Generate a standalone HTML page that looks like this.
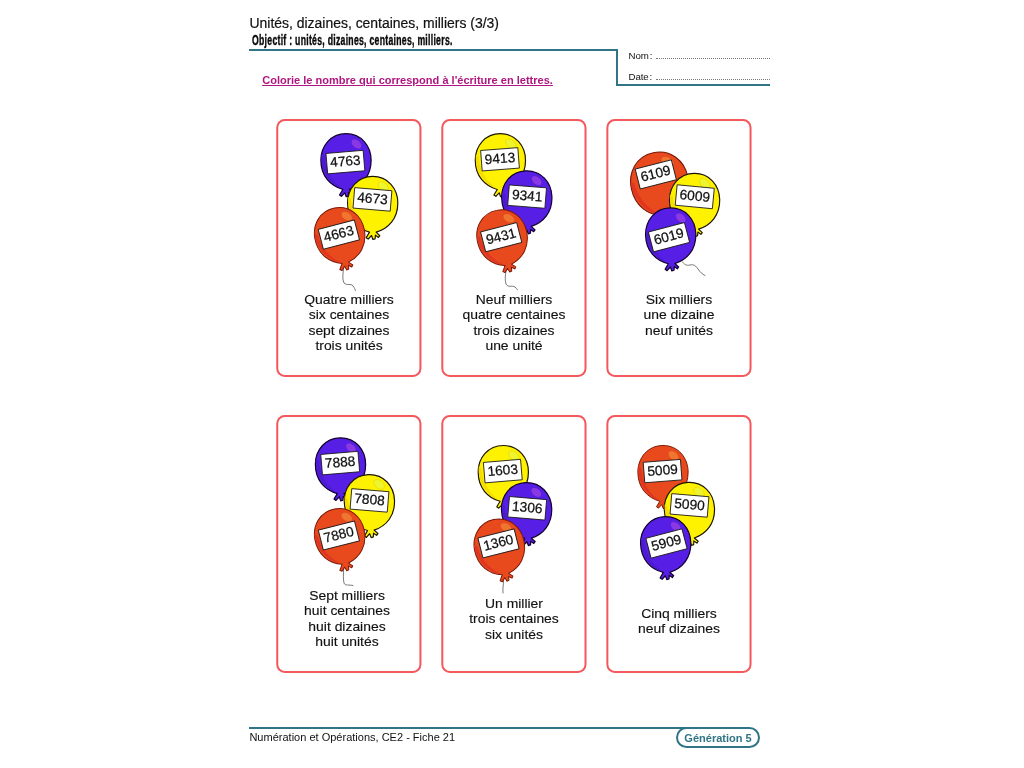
<!DOCTYPE html>
<html lang="fr"><head><meta charset="utf-8"><title>Unités, dizaines, centaines, milliers (3/3)</title>
<style>
html,body{margin:0;padding:0;background:#fff;}
body{width:1024px;height:768px;position:relative;overflow:hidden;font-family:"Liberation Sans",sans-serif;color:#1a1a1a;}
.abs{position:absolute;white-space:nowrap;}
#title{left:249.5px;top:14.9px;font-size:13.95px;line-height:16px;color:#111;-webkit-text-stroke:0.2px #111;}
#obj{left:252px;top:33.2px;font-size:13.8px;line-height:16px;font-weight:bold;color:#0a0a0a;transform-origin:0 0;transform:scaleX(0.628);letter-spacing:0.45px;-webkit-text-stroke:0.4px #0a0a0a;}
.ln{position:absolute;background:#2f7585;}
.nd{font-size:9.7px;line-height:11px;color:#111;word-spacing:-1.7px;letter-spacing:-0.08px;}
.dots{position:absolute;height:0;border-bottom:1px dotted #777;}
#instr{left:262.2px;top:73.8px;font-size:11.04px;line-height:13px;font-weight:bold;color:#b0167f;text-decoration:underline;text-decoration-thickness:0.85px;text-underline-offset:1.2px;}
.card{position:absolute;width:141px;height:254px;border:2px solid #f4585c;border-radius:8px;box-sizing:content-box;}
.ct{position:absolute;width:160px;text-align:center;font-size:13.45px;line-height:15.33px;color:#111;white-space:nowrap;-webkit-text-stroke:0.15px #111;transform:scaleX(1.034);transform-origin:50% 50%;}
svg{position:absolute;left:0;top:0;}
.num{font-family:"Liberation Sans",sans-serif;font-size:13.7px;fill:#111;stroke:#111;stroke-width:0.25px;}
#foot{left:249.4px;top:731.1px;font-size:11.03px;line-height:13px;color:#111;}
#pill{position:absolute;left:676px;top:727px;width:80px;height:17px;border:2px solid #2f7585;border-radius:11px;background:#fff;color:#2f7585;font-weight:bold;font-size:11.02px;line-height:19px;text-align:center;white-space:nowrap;}
</style></head><body>
<div id="title" class="abs">Unités, dizaines, centaines, milliers (3/3)</div>
<div id="obj" class="abs">Objectif : unités, dizaines, centaines, milliers.</div>
<div class="ln" style="left:249px;top:48.9px;width:369px;height:2px;"></div>
<div class="ln" style="left:616.1px;top:48.9px;width:1.9px;height:36.6px;"></div>
<div class="ln" style="left:616.1px;top:83.8px;width:153.6px;height:1.9px;"></div>
<div class="abs nd" style="left:628.5px;top:49.6px;">Nom :</div>
<div class="abs nd" style="left:628.5px;top:70.6px;">Date :</div>
<div class="dots" style="left:656px;top:58px;width:113.5px;"></div>
<div class="dots" style="left:656px;top:78.6px;width:113.5px;"></div>
<div id="instr" class="abs">Colorie le nombre qui correspond à l'écriture en lettres.</div>


<svg width="1024" height="768" viewBox="0 0 1024 768">
<rect x="277.25" y="120.00" width="143.2" height="256.0" rx="7.5" ry="7.5" fill="none" stroke="#f4585c" stroke-width="2"/>
<rect x="442.30" y="120.00" width="143.2" height="256.0" rx="7.5" ry="7.5" fill="none" stroke="#f4585c" stroke-width="2"/>
<rect x="607.35" y="120.00" width="143.2" height="256.0" rx="7.5" ry="7.5" fill="none" stroke="#f4585c" stroke-width="2"/>
<rect x="277.25" y="416.10" width="143.2" height="255.9" rx="7.5" ry="7.5" fill="none" stroke="#f4585c" stroke-width="2"/>
<rect x="442.30" y="416.10" width="143.2" height="255.9" rx="7.5" ry="7.5" fill="none" stroke="#f4585c" stroke-width="2"/>
<rect x="607.35" y="416.10" width="143.2" height="255.9" rx="7.5" ry="7.5" fill="none" stroke="#f4585c" stroke-width="2"/>
<path d="M343.6,268 C343,274 342,279 344,283 C347,286 351,283 353,286 C354.5,288 355,289 355.4,290.5" fill="none" stroke="#555" stroke-width="0.8" stroke-linecap="round"/>
<g transform="translate(346,160.3) rotate(0) scale(0.985,0.985)"><path d="M0,-27 C15.5,-27 25.5,-14.5 25.5,0 C25.5,16 16,26 3.5,29.6 L7.2,33.2 L5.8,35 L2.8,32.6 L2.4,36.4 L0.2,37 L-1.2,33 L-4.6,36.6 L-6.6,35.2 L-3.2,29.6 C-16,26 -25.5,16 -25.5,0 C-25.5,-14.5 -15.5,-27 0,-27 Z" fill="#571fe6" stroke="#12002e" stroke-width="1.25" stroke-linejoin="round"/><path d="M-25,-6 C-26,12 -15,25 -3.5,28.8 C-12,23 -20.5,14 -22.2,-4 Z" fill="#4c1bcf"/><ellipse cx="10.6" cy="-16.6" rx="6.2" ry="4" transform="rotate(42 10.6 -16.6)" fill="#8a37e4" stroke="#4a19cc" stroke-width="0.5"/></g>
<g transform="translate(345.4,162.1) rotate(-4.8)"><rect x="-18.65" y="-10.25" width="37.3" height="20.5" fill="#fff" stroke="#161616" stroke-width="0.85"/><text x="0" y="3.7" text-anchor="middle" class="num">4763</text></g>
<g transform="translate(372.7,203) rotate(0) scale(0.985,0.985)"><path d="M0,-27 C15.5,-27 25.5,-14.5 25.5,0 C25.5,16 16,26 3.5,29.6 L7.2,33.2 L5.8,35 L2.8,32.6 L2.4,36.4 L0.2,37 L-1.2,33 L-4.6,36.6 L-6.6,35.2 L-3.2,29.6 C-16,26 -25.5,16 -25.5,0 C-25.5,-14.5 -15.5,-27 0,-27 Z" fill="#fff200" stroke="#1c1600" stroke-width="1.2" stroke-linejoin="round"/><path d="M-25,-6 C-26,12 -15,25 -3.5,28.8 C-12,23 -20.5,14 -22.2,-4 Z" fill="#f6dc00"/><ellipse cx="10.6" cy="-16.6" rx="6.2" ry="4" transform="rotate(42 10.6 -16.6)" fill="#eef52e" stroke="#e3cc00" stroke-width="0.5"/></g>
<g transform="translate(372.45,199.4) rotate(4.8)"><rect x="-18.65" y="-10.25" width="37.3" height="20.5" fill="#fff" stroke="#161616" stroke-width="0.85"/><text x="0" y="3.7" text-anchor="middle" class="num">4673</text></g>
<g transform="translate(339.6,234.2) rotate(-11) scale(0.985,0.985)"><path d="M0,-27 C15.5,-27 25.5,-14.5 25.5,0 C25.5,16 16,26 3.5,29.6 L7.2,33.2 L5.8,35 L2.8,32.6 L2.4,36.4 L0.2,37 L-1.2,33 L-4.6,36.6 L-6.6,35.2 L-3.2,29.6 C-16,26 -25.5,16 -25.5,0 C-25.5,-14.5 -15.5,-27 0,-27 Z" fill="#e84a1d" stroke="#7a1806" stroke-width="1.0" stroke-linejoin="round"/><path d="M-25,-6 C-26,12 -15,25 -3.5,28.8 C-12,23 -20.5,14 -22.2,-4 Z" fill="#df3522"/><ellipse cx="10.6" cy="-16.6" rx="6.2" ry="4" transform="rotate(42 10.6 -16.6)" fill="#f0762f" stroke="#dc451c" stroke-width="0.5"/></g>
<g transform="translate(338.85,234.6) rotate(-14.6)"><rect x="-18.65" y="-10.25" width="37.3" height="20.5" fill="#fff" stroke="#161616" stroke-width="0.85"/><text x="0" y="3.7" text-anchor="middle" class="num">4663</text></g>

<path d="M506,271 C505,276 505,281 506,284 C508,288 512,285 515,287 C516,288 517,289 517.5,289.8" fill="none" stroke="#555" stroke-width="0.8" stroke-linecap="round"/>
<g transform="translate(500.4,160.3) rotate(0) scale(0.985,0.985)"><path d="M0,-27 C15.5,-27 25.5,-14.5 25.5,0 C25.5,16 16,26 3.5,29.6 L7.2,33.2 L5.8,35 L2.8,32.6 L2.4,36.4 L0.2,37 L-1.2,33 L-4.6,36.6 L-6.6,35.2 L-3.2,29.6 C-16,26 -25.5,16 -25.5,0 C-25.5,-14.5 -15.5,-27 0,-27 Z" fill="#fff200" stroke="#1c1600" stroke-width="1.2" stroke-linejoin="round"/><path d="M-25,-6 C-26,12 -15,25 -3.5,28.8 C-12,23 -20.5,14 -22.2,-4 Z" fill="#f6dc00"/><ellipse cx="10.6" cy="-16.6" rx="6.2" ry="4" transform="rotate(42 10.6 -16.6)" fill="#eef52e" stroke="#e3cc00" stroke-width="0.5"/></g>
<g transform="translate(500,159.3) rotate(-4.4)"><rect x="-18.65" y="-10.25" width="37.3" height="20.5" fill="#fff" stroke="#161616" stroke-width="0.85"/><text x="0" y="3.7" text-anchor="middle" class="num">9413</text></g>
<g transform="translate(526.8,197.4) rotate(-2) scale(0.985,0.985)"><path d="M0,-27 C15.5,-27 25.5,-14.5 25.5,0 C25.5,16 16,26 3.5,29.6 L7.2,33.2 L5.8,35 L2.8,32.6 L2.4,36.4 L0.2,37 L-1.2,33 L-4.6,36.6 L-6.6,35.2 L-3.2,29.6 C-16,26 -25.5,16 -25.5,0 C-25.5,-14.5 -15.5,-27 0,-27 Z" fill="#571fe6" stroke="#12002e" stroke-width="1.25" stroke-linejoin="round"/><path d="M-25,-6 C-26,12 -15,25 -3.5,28.8 C-12,23 -20.5,14 -22.2,-4 Z" fill="#4c1bcf"/><ellipse cx="10.6" cy="-16.6" rx="6.2" ry="4" transform="rotate(42 10.6 -16.6)" fill="#8a37e4" stroke="#4a19cc" stroke-width="0.5"/></g>
<g transform="translate(527.1,196.6) rotate(4.5)"><rect x="-18.65" y="-10.25" width="37.3" height="20.5" fill="#fff" stroke="#161616" stroke-width="0.85"/><text x="0" y="3.7" text-anchor="middle" class="num">9341</text></g>
<g transform="translate(502,236.4) rotate(-12) scale(0.985,0.985)"><path d="M0,-27 C15.5,-27 25.5,-14.5 25.5,0 C25.5,16 16,26 3.5,29.6 L7.2,33.2 L5.8,35 L2.8,32.6 L2.4,36.4 L0.2,37 L-1.2,33 L-4.6,36.6 L-6.6,35.2 L-3.2,29.6 C-16,26 -25.5,16 -25.5,0 C-25.5,-14.5 -15.5,-27 0,-27 Z" fill="#e84a1d" stroke="#7a1806" stroke-width="1.0" stroke-linejoin="round"/><path d="M-25,-6 C-26,12 -15,25 -3.5,28.8 C-12,23 -20.5,14 -22.2,-4 Z" fill="#df3522"/><ellipse cx="10.6" cy="-16.6" rx="6.2" ry="4" transform="rotate(42 10.6 -16.6)" fill="#f0762f" stroke="#dc451c" stroke-width="0.5"/></g>
<g transform="translate(501.2,237.2) rotate(-14.5)"><rect x="-18.65" y="-10.25" width="37.3" height="20.5" fill="#fff" stroke="#161616" stroke-width="0.85"/><text x="0" y="3.7" text-anchor="middle" class="num">9431</text></g>

<path d="M682.3,261.8 C684,264 686,266 690,265 C694,264 696,266 698,269 C700,272 702,274 705,275.5" fill="none" stroke="#555" stroke-width="0.8" stroke-linecap="round"/>
<g transform="translate(659.6,182.6) rotate(-12) scale(1.13275,1.13275)"><path d="M0,-27 C15.5,-27 25.5,-14.5 25.5,0 C25.5,16 16,26 3.5,29.6 L7.2,33.2 L5.8,35 L2.8,32.6 L2.4,36.4 L0.2,37 L-1.2,33 L-4.6,36.6 L-6.6,35.2 L-3.2,29.6 C-16,26 -25.5,16 -25.5,0 C-25.5,-14.5 -15.5,-27 0,-27 Z" fill="#e84a1d" stroke="#7a1806" stroke-width="1.0" stroke-linejoin="round"/><path d="M-25,-6 C-26,12 -15,25 -3.5,28.8 C-12,23 -20.5,14 -22.2,-4 Z" fill="#df3522"/><ellipse cx="10.6" cy="-16.6" rx="6.2" ry="4" transform="rotate(42 10.6 -16.6)" fill="#f0762f" stroke="#dc451c" stroke-width="0.5"/></g>
<g transform="translate(655.8,174.4) rotate(-14.3)"><rect x="-18.65" y="-10.25" width="37.3" height="20.5" fill="#fff" stroke="#161616" stroke-width="0.85"/><text x="0" y="3.7" text-anchor="middle" class="num">6109</text></g>
<g transform="translate(694.6,200) rotate(-1) scale(0.985,0.985)"><path d="M0,-27 C15.5,-27 25.5,-14.5 25.5,0 C25.5,16 16,26 3.5,29.6 L7.2,33.2 L5.8,35 L2.8,32.6 L2.4,36.4 L0.2,37 L-1.2,33 L-4.6,36.6 L-6.6,35.2 L-3.2,29.6 C-16,26 -25.5,16 -25.5,0 C-25.5,-14.5 -15.5,-27 0,-27 Z" fill="#fff200" stroke="#1c1600" stroke-width="1.2" stroke-linejoin="round"/><path d="M-25,-6 C-26,12 -15,25 -3.5,28.8 C-12,23 -20.5,14 -22.2,-4 Z" fill="#f6dc00"/><ellipse cx="10.6" cy="-16.6" rx="6.2" ry="4" transform="rotate(42 10.6 -16.6)" fill="#eef52e" stroke="#e3cc00" stroke-width="0.5"/></g>
<g transform="translate(694.75,196.75) rotate(5.4)"><rect x="-18.65" y="-10.25" width="37.3" height="20.5" fill="#fff" stroke="#161616" stroke-width="0.85"/><text x="0" y="3.7" text-anchor="middle" class="num">6009</text></g>
<g transform="translate(670.7,234.5) rotate(-1.5) scale(0.985,0.985)"><path d="M0,-27 C15.5,-27 25.5,-14.5 25.5,0 C25.5,16 16,26 3.5,29.6 L7.2,33.2 L5.8,35 L2.8,32.6 L2.4,36.4 L0.2,37 L-1.2,33 L-4.6,36.6 L-6.6,35.2 L-3.2,29.6 C-16,26 -25.5,16 -25.5,0 C-25.5,-14.5 -15.5,-27 0,-27 Z" fill="#571fe6" stroke="#12002e" stroke-width="1.25" stroke-linejoin="round"/><path d="M-25,-6 C-26,12 -15,25 -3.5,28.8 C-12,23 -20.5,14 -22.2,-4 Z" fill="#4c1bcf"/><ellipse cx="10.6" cy="-16.6" rx="6.2" ry="4" transform="rotate(42 10.6 -16.6)" fill="#8a37e4" stroke="#4a19cc" stroke-width="0.5"/></g>
<g transform="translate(669,237.2) rotate(-14.7)"><rect x="-18.65" y="-10.25" width="37.3" height="20.5" fill="#fff" stroke="#161616" stroke-width="0.85"/><text x="0" y="3.7" text-anchor="middle" class="num">6019</text></g>

<path d="M343.6,569 C343.5,574 343,579 344,583 C345,586 349,584.5 353,585.5" fill="none" stroke="#555" stroke-width="0.8" stroke-linecap="round"/>
<g transform="translate(340.5,464.4) rotate(0) scale(0.985,0.985)"><path d="M0,-27 C15.5,-27 25.5,-14.5 25.5,0 C25.5,16 16,26 3.5,29.6 L7.2,33.2 L5.8,35 L2.8,32.6 L2.4,36.4 L0.2,37 L-1.2,33 L-4.6,36.6 L-6.6,35.2 L-3.2,29.6 C-16,26 -25.5,16 -25.5,0 C-25.5,-14.5 -15.5,-27 0,-27 Z" fill="#571fe6" stroke="#12002e" stroke-width="1.25" stroke-linejoin="round"/><path d="M-25,-6 C-26,12 -15,25 -3.5,28.8 C-12,23 -20.5,14 -22.2,-4 Z" fill="#4c1bcf"/><ellipse cx="10.6" cy="-16.6" rx="6.2" ry="4" transform="rotate(42 10.6 -16.6)" fill="#8a37e4" stroke="#4a19cc" stroke-width="0.5"/></g>
<g transform="translate(340.2,463.1) rotate(-4.8)"><rect x="-18.65" y="-10.25" width="37.3" height="20.5" fill="#fff" stroke="#161616" stroke-width="0.85"/><text x="0" y="3.7" text-anchor="middle" class="num">7888</text></g>
<g transform="translate(369.4,501.2) rotate(-2.5) scale(0.985,0.985)"><path d="M0,-27 C15.5,-27 25.5,-14.5 25.5,0 C25.5,16 16,26 3.5,29.6 L7.2,33.2 L5.8,35 L2.8,32.6 L2.4,36.4 L0.2,37 L-1.2,33 L-4.6,36.6 L-6.6,35.2 L-3.2,29.6 C-16,26 -25.5,16 -25.5,0 C-25.5,-14.5 -15.5,-27 0,-27 Z" fill="#fff200" stroke="#1c1600" stroke-width="1.2" stroke-linejoin="round"/><path d="M-25,-6 C-26,12 -15,25 -3.5,28.8 C-12,23 -20.5,14 -22.2,-4 Z" fill="#f6dc00"/><ellipse cx="10.6" cy="-16.6" rx="6.2" ry="4" transform="rotate(42 10.6 -16.6)" fill="#eef52e" stroke="#e3cc00" stroke-width="0.5"/></g>
<g transform="translate(369.5,500.4) rotate(4.7)"><rect x="-18.65" y="-10.25" width="37.3" height="20.5" fill="#fff" stroke="#161616" stroke-width="0.85"/><text x="0" y="3.7" text-anchor="middle" class="num">7808</text></g>
<g transform="translate(339.6,535.1) rotate(-11) scale(0.985,0.985)"><path d="M0,-27 C15.5,-27 25.5,-14.5 25.5,0 C25.5,16 16,26 3.5,29.6 L7.2,33.2 L5.8,35 L2.8,32.6 L2.4,36.4 L0.2,37 L-1.2,33 L-4.6,36.6 L-6.6,35.2 L-3.2,29.6 C-16,26 -25.5,16 -25.5,0 C-25.5,-14.5 -15.5,-27 0,-27 Z" fill="#e84a1d" stroke="#7a1806" stroke-width="1.0" stroke-linejoin="round"/><path d="M-25,-6 C-26,12 -15,25 -3.5,28.8 C-12,23 -20.5,14 -22.2,-4 Z" fill="#df3522"/><ellipse cx="10.6" cy="-16.6" rx="6.2" ry="4" transform="rotate(42 10.6 -16.6)" fill="#f0762f" stroke="#dc451c" stroke-width="0.5"/></g>
<g transform="translate(338.9,535.5) rotate(-14.2)"><rect x="-18.65" y="-10.25" width="37.3" height="20.5" fill="#fff" stroke="#161616" stroke-width="0.85"/><text x="0" y="3.7" text-anchor="middle" class="num">7880</text></g>

<path d="M503.6,580 C503.5,585 502.5,589 503,593" fill="none" stroke="#555" stroke-width="0.8" stroke-linecap="round"/>
<g transform="translate(503.3,472.1) rotate(0) scale(0.985,0.985)"><path d="M0,-27 C15.5,-27 25.5,-14.5 25.5,0 C25.5,16 16,26 3.5,29.6 L7.2,33.2 L5.8,35 L2.8,32.6 L2.4,36.4 L0.2,37 L-1.2,33 L-4.6,36.6 L-6.6,35.2 L-3.2,29.6 C-16,26 -25.5,16 -25.5,0 C-25.5,-14.5 -15.5,-27 0,-27 Z" fill="#fff200" stroke="#1c1600" stroke-width="1.2" stroke-linejoin="round"/><path d="M-25,-6 C-26,12 -15,25 -3.5,28.8 C-12,23 -20.5,14 -22.2,-4 Z" fill="#f6dc00"/><ellipse cx="10.6" cy="-16.6" rx="6.2" ry="4" transform="rotate(42 10.6 -16.6)" fill="#eef52e" stroke="#e3cc00" stroke-width="0.5"/></g>
<g transform="translate(502.8,471.1) rotate(-4.8)"><rect x="-18.65" y="-10.25" width="37.3" height="20.5" fill="#fff" stroke="#161616" stroke-width="0.85"/><text x="0" y="3.7" text-anchor="middle" class="num">1603</text></g>
<g transform="translate(526.6,509.2) rotate(-2.5) scale(0.985,0.985)"><path d="M0,-27 C15.5,-27 25.5,-14.5 25.5,0 C25.5,16 16,26 3.5,29.6 L7.2,33.2 L5.8,35 L2.8,32.6 L2.4,36.4 L0.2,37 L-1.2,33 L-4.6,36.6 L-6.6,35.2 L-3.2,29.6 C-16,26 -25.5,16 -25.5,0 C-25.5,-14.5 -15.5,-27 0,-27 Z" fill="#571fe6" stroke="#12002e" stroke-width="1.25" stroke-linejoin="round"/><path d="M-25,-6 C-26,12 -15,25 -3.5,28.8 C-12,23 -20.5,14 -22.2,-4 Z" fill="#4c1bcf"/><ellipse cx="10.6" cy="-16.6" rx="6.2" ry="4" transform="rotate(42 10.6 -16.6)" fill="#8a37e4" stroke="#4a19cc" stroke-width="0.5"/></g>
<g transform="translate(527.2,508.3) rotate(4.8)"><rect x="-18.65" y="-10.25" width="37.3" height="20.5" fill="#fff" stroke="#161616" stroke-width="0.85"/><text x="0" y="3.7" text-anchor="middle" class="num">1306</text></g>
<g transform="translate(499.25,545.6) rotate(-12) scale(0.985,0.985)"><path d="M0,-27 C15.5,-27 25.5,-14.5 25.5,0 C25.5,16 16,26 3.5,29.6 L7.2,33.2 L5.8,35 L2.8,32.6 L2.4,36.4 L0.2,37 L-1.2,33 L-4.6,36.6 L-6.6,35.2 L-3.2,29.6 C-16,26 -25.5,16 -25.5,0 C-25.5,-14.5 -15.5,-27 0,-27 Z" fill="#e84a1d" stroke="#7a1806" stroke-width="1.0" stroke-linejoin="round"/><path d="M-25,-6 C-26,12 -15,25 -3.5,28.8 C-12,23 -20.5,14 -22.2,-4 Z" fill="#df3522"/><ellipse cx="10.6" cy="-16.6" rx="6.2" ry="4" transform="rotate(42 10.6 -16.6)" fill="#f0762f" stroke="#dc451c" stroke-width="0.5"/></g>
<g transform="translate(498.5,543.4) rotate(-14.1)"><rect x="-18.65" y="-10.25" width="37.3" height="20.5" fill="#fff" stroke="#161616" stroke-width="0.85"/><text x="0" y="3.7" text-anchor="middle" class="num">1360</text></g>

<g transform="translate(663,472.1) rotate(0) scale(0.985,0.985)"><path d="M0,-27 C15.5,-27 25.5,-14.5 25.5,0 C25.5,16 16,26 3.5,29.6 L7.2,33.2 L5.8,35 L2.8,32.6 L2.4,36.4 L0.2,37 L-1.2,33 L-4.6,36.6 L-6.6,35.2 L-3.2,29.6 C-16,26 -25.5,16 -25.5,0 C-25.5,-14.5 -15.5,-27 0,-27 Z" fill="#e84a1d" stroke="#7a1806" stroke-width="1.0" stroke-linejoin="round"/><path d="M-25,-6 C-26,12 -15,25 -3.5,28.8 C-12,23 -20.5,14 -22.2,-4 Z" fill="#df3522"/><ellipse cx="10.6" cy="-16.6" rx="6.2" ry="4" transform="rotate(42 10.6 -16.6)" fill="#f0762f" stroke="#dc451c" stroke-width="0.5"/></g>
<g transform="translate(662.6,471.1) rotate(-4.4)"><rect x="-18.65" y="-10.25" width="37.3" height="20.5" fill="#fff" stroke="#161616" stroke-width="0.85"/><text x="0" y="3.7" text-anchor="middle" class="num">5009</text></g>
<g transform="translate(689.4,509) rotate(-3) scale(0.985,0.985)"><path d="M0,-27 C15.5,-27 25.5,-14.5 25.5,0 C25.5,16 16,26 3.5,29.6 L7.2,33.2 L5.8,35 L2.8,32.6 L2.4,36.4 L0.2,37 L-1.2,33 L-4.6,36.6 L-6.6,35.2 L-3.2,29.6 C-16,26 -25.5,16 -25.5,0 C-25.5,-14.5 -15.5,-27 0,-27 Z" fill="#fff200" stroke="#1c1600" stroke-width="1.2" stroke-linejoin="round"/><path d="M-25,-6 C-26,12 -15,25 -3.5,28.8 C-12,23 -20.5,14 -22.2,-4 Z" fill="#f6dc00"/><ellipse cx="10.6" cy="-16.6" rx="6.2" ry="4" transform="rotate(42 10.6 -16.6)" fill="#eef52e" stroke="#e3cc00" stroke-width="0.5"/></g>
<g transform="translate(689.5,505.4) rotate(4.8)"><rect x="-18.65" y="-10.25" width="37.3" height="20.5" fill="#fff" stroke="#161616" stroke-width="0.85"/><text x="0" y="3.7" text-anchor="middle" class="num">5090</text></g>
<g transform="translate(665.7,543.2) rotate(-1.5) scale(0.985,0.985)"><path d="M0,-27 C15.5,-27 25.5,-14.5 25.5,0 C25.5,16 16,26 3.5,29.6 L7.2,33.2 L5.8,35 L2.8,32.6 L2.4,36.4 L0.2,37 L-1.2,33 L-4.6,36.6 L-6.6,35.2 L-3.2,29.6 C-16,26 -25.5,16 -25.5,0 C-25.5,-14.5 -15.5,-27 0,-27 Z" fill="#571fe6" stroke="#12002e" stroke-width="1.25" stroke-linejoin="round"/><path d="M-25,-6 C-26,12 -15,25 -3.5,28.8 C-12,23 -20.5,14 -22.2,-4 Z" fill="#4c1bcf"/><ellipse cx="10.6" cy="-16.6" rx="6.2" ry="4" transform="rotate(42 10.6 -16.6)" fill="#8a37e4" stroke="#4a19cc" stroke-width="0.5"/></g>
<g transform="translate(666.5,543.5) rotate(-14.7)"><rect x="-18.65" y="-10.25" width="37.3" height="20.5" fill="#fff" stroke="#161616" stroke-width="0.85"/><text x="0" y="3.7" text-anchor="middle" class="num">5909</text></g>

</svg>
<div class="ct" style="left:269px;top:292.13px;">Quatre milliers<br>six centaines<br>sept dizaines<br>trois unités</div>
<div class="ct" style="left:434.1px;top:292.13px;">Neuf milliers<br>quatre centaines<br>trois dizaines<br>une unité</div>
<div class="ct" style="left:599.1px;top:292.13px;">Six milliers<br>une dizaine<br>neuf unités</div>
<div class="ct" style="left:266.6px;top:588.13px;">Sept milliers<br>huit centaines<br>huit dizaines<br>huit unités</div>
<div class="ct" style="left:433.9px;top:596.03px;">Un millier<br>trois centaines<br>six unités</div>
<div class="ct" style="left:599px;top:605.78px;">Cinq milliers<br>neuf dizaines</div>

<div class="ln" style="left:249px;top:727.2px;width:500px;height:1.6px;"></div>
<div id="foot" class="abs">Numération et Opérations, CE2 - Fiche 21</div>
<div id="pill">Génération 5</div>
</body></html>
